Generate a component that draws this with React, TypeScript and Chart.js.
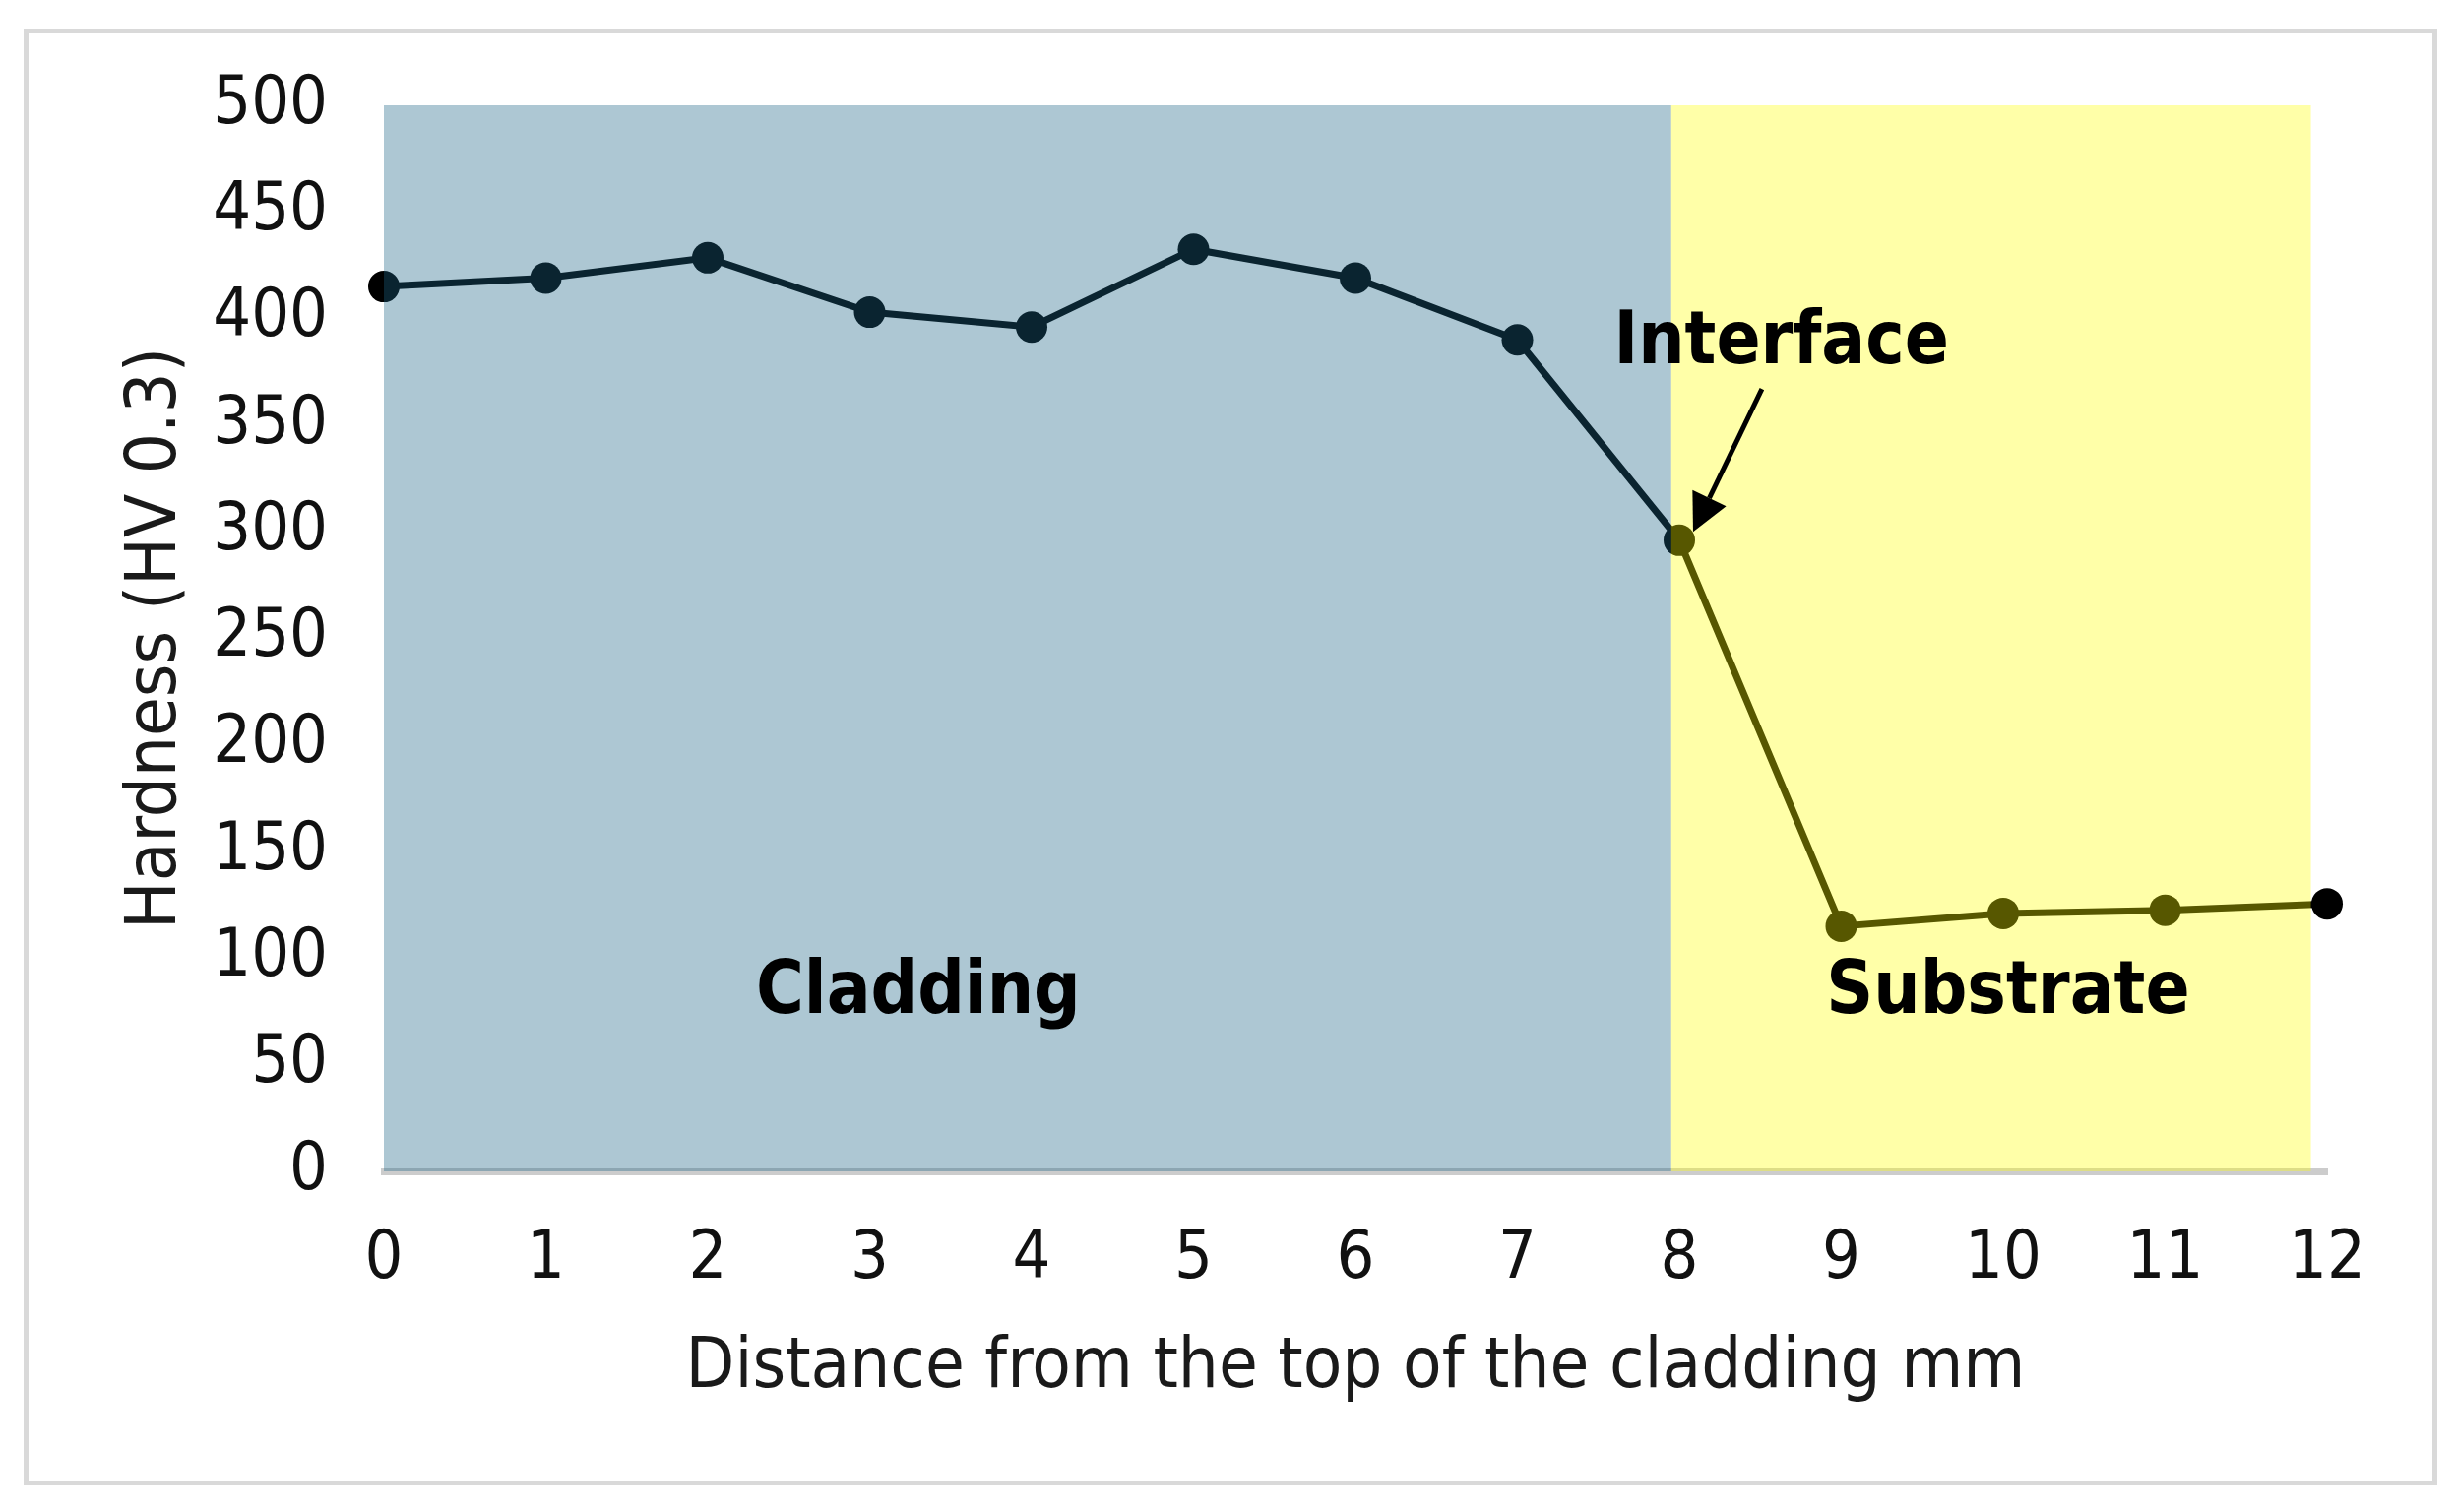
import React, { useEffect, useRef } from 'react';
import { Chart, registerables } from 'chart.js';

Chart.register(...registerables);

// Hardness profile
const distanceMm = [0, 1, 2, 3, 4, 5, 6, 7, 8, 9, 10, 11, 12];
const hardnessHv = [415, 419, 428.5, 403, 396, 432.5, 419, 390, 296, 115, 121, 122.5, 125.5];

// Shaded zones (in mm along x)
const zoneNames = ['Cladding', 'Substrate'];
const zoneStart = [0, 7.95];
const zoneEnd = [7.95, 11.9];
const zoneLabelX = [3.3, 10.03];
const zoneLabelY = [83, 83];

// "Interface" callout (data coordinates)
const calloutText = 'Interface';
const calloutTextAt = [8.63, 388];
const calloutFrom = [8.51, 367];
const calloutTo = [8.085, 300];

const FONT = "'DejaVu Sans Condensed', 'DejaVu Sans', sans-serif";
const ZONE_COLORS = ['rgba(28, 101, 134, 0.36)', 'rgba(255, 255, 0, 0.34)'];

const zonesPlugin = {
  id: 'zones',
  afterDatasetsDraw(chart: Chart) {
    const { ctx } = chart;
    const x = chart.scales.x;
    const y = chart.scales.y;
    const top = y.getPixelForValue(500);
    const bottom = y.getPixelForValue(0);

    ctx.save();
    zoneStart.forEach((s, i) => {
      const x0 = x.getPixelForValue(s);
      const x1 = x.getPixelForValue(zoneEnd[i]);
      ctx.fillStyle = ZONE_COLORS[i];
      ctx.fillRect(x0, top, x1 - x0, bottom - top);
    });

    ctx.fillStyle = '#000';
    ctx.font = `bold 74px ${FONT}`;
    ctx.textAlign = 'center';
    ctx.textBaseline = 'middle';
    zoneNames.forEach((name, i) => {
      ctx.fillText(name, x.getPixelForValue(zoneLabelX[i]), y.getPixelForValue(zoneLabelY[i]));
    });
    ctx.fillText(calloutText, x.getPixelForValue(calloutTextAt[0]), y.getPixelForValue(calloutTextAt[1]));

    // arrow
    const ax = x.getPixelForValue(calloutFrom[0]);
    const ay = y.getPixelForValue(calloutFrom[1]);
    const bx = x.getPixelForValue(calloutTo[0]);
    const by = y.getPixelForValue(calloutTo[1]);
    const ang = Math.atan2(by - ay, bx - ax);
    const headLen = 38;
    const headHalf = 19;
    const baseX = bx - Math.cos(ang) * headLen;
    const baseY = by - Math.sin(ang) * headLen;
    ctx.strokeStyle = '#000';
    ctx.lineWidth = 5;
    ctx.beginPath();
    ctx.moveTo(ax, ay);
    ctx.lineTo(baseX, baseY);
    ctx.stroke();
    ctx.beginPath();
    ctx.moveTo(bx, by);
    ctx.lineTo(baseX - Math.sin(ang) * headHalf, baseY + Math.cos(ang) * headHalf);
    ctx.lineTo(baseX + Math.sin(ang) * headHalf, baseY - Math.cos(ang) * headHalf);
    ctx.closePath();
    ctx.fill();
    ctx.restore();
  }
};

const HardnessChart = () => {
  const chartRef = useRef<HTMLCanvasElement>(null);
  const chartInstance = useRef<Chart | null>(null);

  useEffect(() => {
    document.body.style.margin = '0';
    if (!chartRef.current) return;
    if (chartInstance.current) chartInstance.current.destroy();
    const ctx = chartRef.current.getContext('2d');
    if (!ctx) return;

    chartInstance.current = new Chart(ctx, {
      type: 'line',
      data: {
        datasets: [{
          label: 'Hardness',
          data: distanceMm.map((d, i) => ({ x: d, y: hardnessHv[i] })),
          borderColor: '#000',
          borderWidth: 7,
          pointRadius: 16,
          pointBorderWidth: 0,
          pointBackgroundColor: '#000',
          tension: 0,
          clip: false,
        }]
      },
      options: {
        responsive: false,
        animation: false,
        devicePixelRatio: 1,
        layout: { padding: { top: 107, right: 130, bottom: 0, left: 0 } },
        plugins: {
          legend: { display: false },
          tooltip: { enabled: false },
        },
        scales: {
          x: {
            type: 'linear',
            min: 0,
            max: 12,
            grid: { display: false, drawTicks: false },
            border: { display: true, color: '#cccccc', width: 7 },
            ticks: {
              stepSize: 1,
              padding: 50,
              color: '#111111',
              font: { family: FONT, size: 68 },
            },
            title: {
              display: true,
              text: 'Distance from the top of the cladding mm',
              color: '#1a1a1a',
              font: { family: FONT, size: 72 },
              padding: { top: 0, bottom: 103 },
            },
            afterFit: (scale: any) => { scale.height = 346; },
          },
          y: {
            min: 0,
            max: 500,
            grid: { display: false, drawTicks: false },
            border: { display: false },
            ticks: {
              stepSize: 50,
              padding: 57,
              color: '#111111',
              font: { family: FONT, size: 68 },
            },
            title: {
              display: true,
              text: 'Hardness (HV 0.3)',
              color: '#1a1a1a',
              font: { family: FONT, size: 72 },
              padding: { top: 116, bottom: 0 },
            },
            afterFit: (scale: any) => { scale.width = 390; },
          }
        }
      },
      plugins: [zonesPlugin]
    });

    return () => {
      if (chartInstance.current) {
        chartInstance.current.destroy();
        chartInstance.current = null;
      }
    };
  }, []);

  return (
    <div style={{ position: 'relative', width: 2494, height: 1536, background: '#fff' }}>
      <canvas ref={chartRef} width={2494} height={1536} style={{ display: 'block' }}></canvas>
      <div style={{
        position: 'absolute', left: 24, top: 29, width: 2452, height: 1480,
        border: '5px solid #d9d9d9', boxSizing: 'border-box', pointerEvents: 'none'
      }} />
    </div>
  );
};

export default function App() {
  return <HardnessChart />;
}
